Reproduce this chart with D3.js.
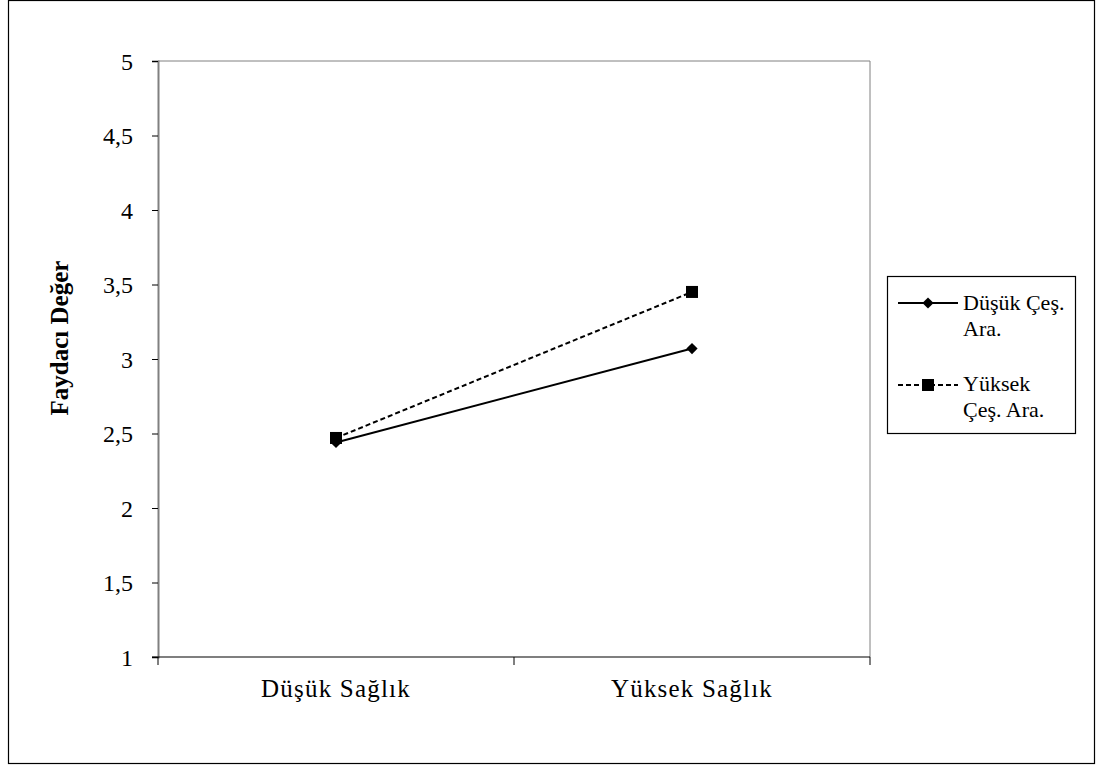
<!DOCTYPE html>
<html><head><meta charset="utf-8">
<script src="https://cdn.jsdelivr.net/npm/d3@7"></script>
<style>body{margin:0;background:#fff}svg{display:block}</style>
</head><body><svg id="c" width="1101" height="767"></svg>
<script>
const categories = ["Düşük Sağlık", "Yüksek Sağlık"];
const seriesNames = [["Düşük Çeş.", "Ara."], ["Yüksek", "Çeş. Ara."]];
const lowValues = [2.44, 3.07];
const highValues = [2.47, 3.45];
const yTicks = [1, 1.5, 2, 2.5, 3, 3.5, 4, 4.5, 5];
const yTitle = "Faydacı Değer";

const FONT = "'Liberation Serif', 'Times New Roman', serif";
const svg = d3.select("#c").attr("font-family", FONT);
svg.append("rect").attr("x", 8.5).attr("y", 0.5).attr("width", 1086).attr("height", 763)
  .attr("fill", "#fff").attr("stroke", "#000").attr("stroke-width", 1.2);

const L = 158, R = 870, T = 61, B = 657;
const x = d3.scaleBand().domain(categories).range([L, R]);
const y = d3.scaleLinear().domain([1, 5]).range([B, T]);

// plot frame
svg.append("path").attr("d", `M${L},${T}H${R}V${B}`).attr("fill", "none").attr("stroke", "#808080").attr("stroke-width", 1);

const fmt = d => String(d).replace(".", ",");
const ya = svg.append("g").attr("transform", `translate(${L},0)`)
  .call(d3.axisLeft(y).tickValues(yTicks).tickFormat(fmt).tickSize(6).tickPadding(19));
ya.attr("font-family", FONT).attr("font-size", 24);
ya.select(".domain").attr("stroke", "#808080").attr("stroke-width", 2);
ya.selectAll(".tick line").attr("stroke", "#000");
ya.selectAll("text").attr("fill", "#000").attr("dy", "0.34em");

// x axis with ticks at category boundaries
const xa = svg.append("g").attr("transform", `translate(0,${B})`);
xa.append("line").attr("x1", L - 6).attr("x2", R).attr("stroke", "#000").attr("stroke-width", 1.2);
const bounds = [L, L + x.bandwidth(), R];
xa.selectAll(".bt").data(bounds).join("line").attr("x1", d => d).attr("x2", d => d)
  .attr("y1", 0).attr("y2", 8).attr("stroke", "#000");
xa.selectAll(".lbl").data(categories).join("text")
  .attr("x", d => x(d) + x.bandwidth() / 2).attr("y", 40)
  .attr("text-anchor", "middle").attr("font-size", 25).attr("letter-spacing", 1.2).text(d => d);

svg.append("text").attr("transform", `translate(68,${338}) rotate(-90)`)
  .attr("text-anchor", "middle").attr("font-size", 25).attr("font-weight", "bold").text(yTitle);

const cx = d => x(d) + x.bandwidth() / 2;
const line = d3.line().x(d => cx(d.c)).y(d => y(d.v));
const lowData = categories.map((c, i) => ({c, v: lowValues[i]}));
const highData = categories.map((c, i) => ({c, v: highValues[i]}));

svg.append("path").datum(lowData).attr("d", line).attr("fill", "none").attr("stroke", "#000").attr("stroke-width", 2);
svg.append("path").datum(highData).attr("d", line).attr("fill", "none").attr("stroke", "#000").attr("stroke-width", 2).attr("stroke-dasharray", "5,3");

const diamond = d3.symbol().type(d3.symbolDiamond2).size(80);
svg.selectAll(".dm").data(lowData).join("path")
  .attr("transform", d => `translate(${cx(d.c)},${y(d.v)})`).attr("d", diamond).attr("fill", "#000");
svg.selectAll(".sq").data(highData).join("rect")
  .attr("x", d => cx(d.c) - 6).attr("y", d => y(d.v) - 6).attr("width", 12).attr("height", 12).attr("fill", "#000");

// legend
const lg = svg.append("g");
lg.append("rect").attr("x", 887.5).attr("y", 276.5).attr("width", 188).attr("height", 157)
  .attr("fill", "#fff").attr("stroke", "#000").attr("stroke-width", 1.2);
const ly = [303, 385];
lg.append("line").attr("x1", 898).attr("x2", 958).attr("y1", ly[0]).attr("y2", ly[0]).attr("stroke", "#000").attr("stroke-width", 2);
lg.append("path").attr("transform", `translate(928,${ly[0]})`).attr("d", diamond).attr("fill", "#000");
lg.append("line").attr("x1", 898).attr("x2", 958).attr("y1", ly[1]).attr("y2", ly[1]).attr("stroke", "#000").attr("stroke-width", 2).attr("stroke-dasharray", "5,3");
lg.append("rect").attr("x", 922).attr("y", ly[1] - 6).attr("width", 12).attr("height", 12).attr("fill", "#000");
const lbase = [[310, 336], [391, 417]];
seriesNames.forEach((lines, i) => {
  lines.forEach((t, j) => {
    lg.append("text").attr("x", 963).attr("y", lbase[i][j]).attr("font-size", 22).text(t);
  });
});
</script></body></html>
